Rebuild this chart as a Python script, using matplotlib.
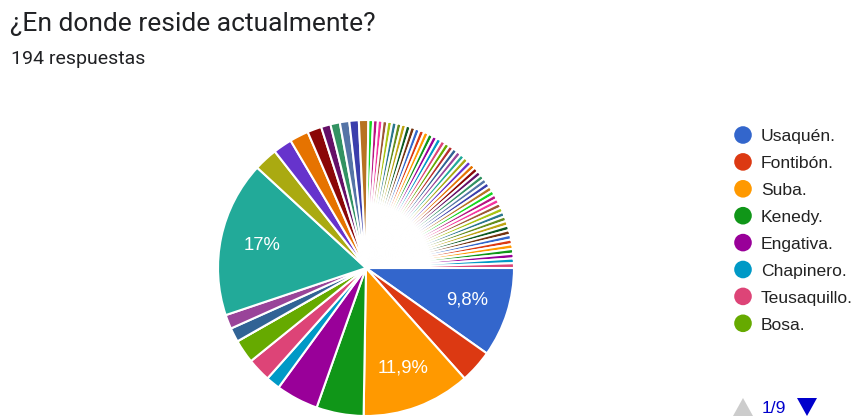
import matplotlib
matplotlib.use("Agg")
import matplotlib.pyplot as plt
from matplotlib.patches import Circle, Polygon

# Survey question and answer count
titulo = "¿En donde reside actualmente?"
subtitulo = "194 respuestas"

# Named options shown on the first legend page
barrios = ["Usaquén.", "Fontibón.", "Suba.", "Kenedy.", "Engativa.",
           "Chapinero.", "Teusaquillo.", "Bosa."]

# Responses per option, in the order the options appear (69 options, 194 answers)
respuestas = ([19, 7, 23, 10, 9, 3, 5, 5, 0, 3, 3, 33, 5, 4, 4, 3, 2, 2, 2, 2, 2]
              + [1] * 48)

pagina_actual = 1
paginas = 9

# Google Charts default series palette (cycles for long series)
paleta = ["#3366cc", "#dc3912", "#ff9900", "#109618", "#990099", "#0099c6",
          "#dd4477", "#66aa00", "#b82e2e", "#316395", "#994499", "#22aa99",
          "#aaaa11", "#6633cc", "#e67300", "#8b0707", "#651067", "#329262",
          "#5574a6", "#3b3eac", "#b77322", "#16d620", "#b91383", "#f4359e",
          "#9c5935", "#a9c413", "#2a778d", "#668d1c", "#bea413", "#0c5922",
          "#743411"]
colores = [paleta[i % len(paleta)] for i in range(len(respuestas))]

W, H = 867, 419
fig = plt.figure(figsize=(W / 100, H / 100), dpi=100)
fig.patch.set_facecolor("white")

# Pie area (pixel box: centre 366,268 radius 148)
cx, cy, r = 366, 268, 148
ax = fig.add_axes([(cx - r) / W, (H - cy - r) / H, 2 * r / W, 2 * r / H])

umbral = 7.0


def etiqueta(pct):
    if pct < umbral:
        return ""
    s = f"{pct:.1f}"
    if s.endswith(".0"):
        s = s[:-2]
    return s.replace(".", ",") + "%"


wedges, textos, auto = ax.pie(
    respuestas, colors=colores, startangle=0, counterclock=False,
    autopct=etiqueta, pctdistance=0.72, radius=1.0,
    wedgeprops=dict(edgecolor="white", linewidth=1.5),
    textprops=dict(color="white", fontsize=13.3, family="Liberation Sans"))
ax.set_xlim(-1, 1)
ax.set_ylim(-1, 1)
ax.set_aspect("equal")
ax.axis("off")

# Overlay in pixel coordinates for header and legend
ov = fig.add_axes([0, 0, 1, 1], zorder=5)
ov.set_xlim(0, W)
ov.set_ylim(H, 0)
ov.axis("off")
ov.patch.set_alpha(0)

ov.text(10, 31.5, titulo, fontsize=19, family="Roboto", color="#202124",
        va="baseline", ha="left")
ov.text(11, 64, subtitulo, fontsize=14, family="Roboto", color="#202124",
        va="baseline", ha="left")

# Legend, first page
y0, paso = 135, 26.9
for i, nombre in enumerate(barrios):
    y = y0 + i * paso
    ov.add_patch(Circle((743, y), 8.8, color=colores[i], lw=0))
    ov.text(761, y + 6.4, nombre, fontsize=12.6, family="Liberation Sans",
            color="#222222", va="baseline", ha="left")

# Pagination controls
ov.add_patch(Polygon([[733, 416], [753, 416], [743, 398]], closed=True,
                     color="#cccccc", lw=0))
ov.text(762, 413, f"{pagina_actual}/{paginas}", fontsize=12.6,
        family="Liberation Sans", color="#0000cc", va="baseline", ha="left")
ov.add_patch(Polygon([[797, 398], [817, 398], [807, 416]], closed=True,
                     color="#0000cc", lw=0))

fig.savefig("out.png", dpi=100, facecolor="white")
